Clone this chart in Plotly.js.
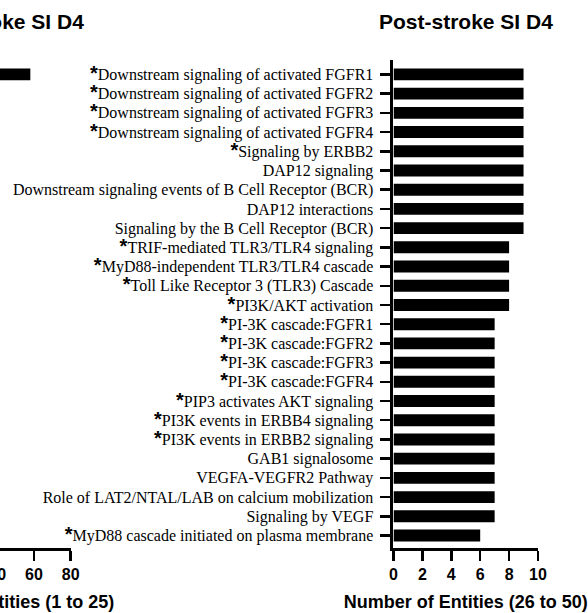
<!DOCTYPE html>
<html><head><meta charset="utf-8">
<script src="https://cdn.plot.ly/plotly-3.0.1.min.js"></script>
<style>
html,body{margin:0;padding:0;overflow:hidden;background:#fff;width:588px;height:613px}
#chart{position:absolute;left:-200px;top:0;width:788px;height:613px}
</style>
</head><body><div id="chart"></div>
<script>
// ---- data ----
const panelTitle = "Post-stroke SI D4";
const leftAxisTitle = "Number of Entities (1 to 25)";
const rightAxisTitle = "Number of Entities (26 to 50)";

// left panel (pathways 1 to 25): only the first bar reaches into view
const leftRanks = [1];
const leftValues = [58];
const leftTicks = [0, 20, 40, 60, 80];

// right panel (pathways 26 to 50)
const rightCategories = [
  "Downstream signaling of activated FGFR1",
  "Downstream signaling of activated FGFR2",
  "Downstream signaling of activated FGFR3",
  "Downstream signaling of activated FGFR4",
  "Signaling by ERBB2",
  "DAP12 signaling",
  "Downstream signaling events of B Cell Receptor (BCR)",
  "DAP12 interactions",
  "Signaling by the B Cell Receptor (BCR)",
  "TRIF-mediated TLR3/TLR4 signaling",
  "MyD88-independent TLR3/TLR4 cascade",
  "Toll Like Receptor 3 (TLR3) Cascade",
  "PI3K/AKT activation",
  "PI-3K cascade:FGFR1",
  "PI-3K cascade:FGFR2",
  "PI-3K cascade:FGFR3",
  "PI-3K cascade:FGFR4",
  "PIP3 activates AKT signaling",
  "PI3K events in ERBB4 signaling",
  "PI3K events in ERBB2 signaling",
  "GAB1 signalosome",
  "VEGFA-VEGFR2 Pathway",
  "Role of LAT2/NTAL/LAB on calcium mobilization",
  "Signaling by VEGF",
  "MyD88 cascade initiated on plasma membrane"
];
const rightSignificant = [
  true, true, true, true, true, false, false, false, false,
  true, true, true, true, true, true, true, true, true, true, true,
  false, false, false, false, true
];
const rightValues = [9, 9, 9, 9, 9, 9, 9, 9, 9, 8, 8, 8, 8, 7, 7, 7, 7, 7, 7, 7, 7, 7, 7, 7, 6];
const rightTicks = [0, 2, 4, 6, 8, 10];

// ---- styling ----
const star = '<span style="font-family:Liberation Sans;font-weight:bold;font-size:20px">*</span>';
const rightTickText = rightCategories.map((c, i) => (rightSignificant[i] ? star : '') + c);

const axisFont = {family: 'Liberation Sans, Arial, sans-serif', size: 16, weight: 'bold', color: '#000'};
const titleFont = {family: 'Liberation Sans, Arial, sans-serif', size: 18, weight: 'bold', color: '#000'};
const common = {
  showline: true, linewidth: 3, linecolor: '#000',
  ticks: 'outside', ticklen: 10, tickwidth: 2.5, tickcolor: '#000',
  showgrid: false, zeroline: false, fixedrange: true
};

const traces = [
  {type: 'bar', orientation: 'h', x: leftValues, y: leftRanks, xaxis: 'x', yaxis: 'y',
   width: 0.62, marker: {color: '#000', line: {width: 0}}, hoverinfo: 'x+y'},
  {type: 'bar', orientation: 'h', x: rightValues, y: rightCategories, xaxis: 'x2', yaxis: 'y2',
   marker: {color: '#000', line: {width: 0}}, hoverinfo: 'x+y'}
];

const layout = {
  width: 788, height: 613,
  margin: {l: 0, r: 50, t: 60, b: 65},
  paper_bgcolor: '#fff', plot_bgcolor: '#fff',
  showlegend: false, bargap: 0.38,
  xaxis: Object.assign({}, common, {
    domain: [0.1679, 0.3668], anchor: 'y', range: [0, 80], tickvals: leftTicks,
    tickfont: axisFont, title: {text: leftAxisTitle, font: titleFont, standoff: 14}
  }),
  yaxis: Object.assign({}, common, {
    domain: [0, 1], anchor: 'x', range: [25.65, 0.25], showticklabels: false, tickvals: leftRanks
  }),
  xaxis2: Object.assign({}, common, {
    domain: [0.8042, 1], anchor: 'y2', range: [0, 10], tickvals: rightTicks,
    tickfont: axisFont, title: {text: rightAxisTitle, font: titleFont, standoff: 14}
  }),
  yaxis2: Object.assign({}, common, {
    domain: [0, 1], anchor: 'x2', type: 'category', range: [24.65, -0.75],
    categoryarray: rightCategories, categoryorder: 'array',
    tickvals: rightCategories, ticktext: rightTickText, ticklabelstandoff: 4,
    tickfont: {family: 'Liberation Serif, Times New Roman, serif', size: 16, color: '#000'}
  }),
  annotations: [
    {xref: 'x domain', yref: 'paper', x: 0.5, y: 1, yanchor: 'middle', yshift: 39, showarrow: false,
     text: panelTitle, font: {family: 'Liberation Sans, Arial, sans-serif', size: 21, weight: 'bold', color: '#000'}},
    {xref: 'x2 domain', yref: 'paper', x: 0.5, y: 1, yanchor: 'middle', yshift: 39, showarrow: false,
     text: panelTitle, font: {family: 'Liberation Sans, Arial, sans-serif', size: 21, weight: 'bold', color: '#000'}}
  ]
};

Plotly.newPlot('chart', traces, layout, {displayModeBar: false, staticPlot: true});
</script>
</body></html>
